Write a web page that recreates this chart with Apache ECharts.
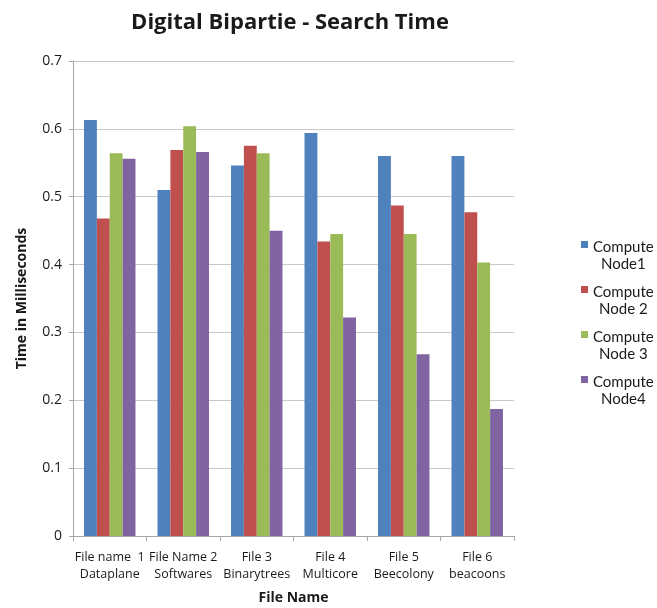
<!DOCTYPE html>
<html>
<head>
<meta charset="utf-8">
<script src="https://cdn.jsdelivr.net/npm/echarts@6/dist/echarts.min.js"></script>
<style>
  html, body { margin: 0; padding: 0; background: #fff; }
  #chart { width: 657px; height: 608px; }
</style>
</head>
<body>
<div id="chart"></div>
<script>
// File categories (two-line labels)
const categories = [
  'File name  1\nDataplane',
  'File Name 2\nSoftwares',
  'File 3\nBinarytrees',
  'File 4\nMulticore',
  'File 5\nBeecolony',
  'File 6\nbeacoons'
];

// Search time (ms) per compute node
const node1 = [0.613, 0.510, 0.546, 0.594, 0.560, 0.560];
const node2 = [0.468, 0.569, 0.575, 0.434, 0.487, 0.477];
const node3 = [0.564, 0.604, 0.564, 0.445, 0.445, 0.403];
const node4 = [0.556, 0.566, 0.450, 0.322, 0.268, 0.187];

const seriesNames = ['Compute Node1', 'Compute Node 2', 'Compute Node 3', 'Compute Node4'];
const seriesData = [node1, node2, node3, node4];
const colors = ['#4F81BD', '#C0504D', '#9BBB59', '#8064A2'];

const yTicks = { min: 0, max: 0.7, interval: 0.1 };

const font = '"Open Sans", "Noto Sans", sans-serif';
const legendFont = 'Lato, "Open Sans", sans-serif';

// Legend swatch: a square sitting at the top of a taller, empty box so it lines up with the first text line
const swatchIcon = 'path://M0,0L7,0L7,7L0,7Z M0,30L0.01,30L0.01,30.01Z';

const chart = echarts.init(document.getElementById('chart'), null, { renderer: 'canvas' });

chart.setOption({
  animation: false,
  backgroundColor: '#ffffff',
  color: colors,
  title: {
    text: 'Digital Bipartie - Search Time',
    left: 285,
    textAlign: 'center',
    top: 7,
    textStyle: { fontFamily: font, fontSize: 22, fontWeight: 'bold', color: '#1a1a1a' }
  },
  legend: {
    orient: 'vertical',
    left: 576,
    top: 235,
    padding: 5,
    itemWidth: 7,
    itemHeight: 30,
    itemGap: 13,
    icon: swatchIcon,
    data: seriesNames,
    formatter: function (name) {
      return '{a|' + name.replace('Compute ', 'Compute\n') + '}';
    },
    textStyle: {
      fontFamily: legendFont,
      fontSize: 15,
      color: '#1a1a1a',
      rich: { a: { fontFamily: legendFont, fontSize: 15, color: '#1a1a1a', lineHeight: 17, align: 'center' } }
    }
  },
  grid: { left: 73, right: 143, top: 61, bottom: 72, containLabel: false, outerBoundsMode: 'none' },
  xAxis: {
    type: 'category',
    data: categories,
    name: 'File Name',
    nameLocation: 'middle',
    nameGap: 55,
    nameTextStyle: { fontFamily: font, fontSize: 14, fontWeight: 'bold', color: '#1a1a1a' },
    axisLine: { lineStyle: { color: '#a6a6a6' } },
    axisTick: { show: true, alignWithLabel: false, length: 5, lineStyle: { color: '#a6a6a6' } },
    axisLabel: { fontFamily: font, fontSize: 12.5, color: '#1a1a1a', lineHeight: 17, margin: 13, interval: 0 }
  },
  yAxis: {
    type: 'value',
    min: yTicks.min,
    max: yTicks.max,
    interval: yTicks.interval,
    name: 'Time in Milliseconds',
    nameLocation: 'middle',
    nameGap: 44,
    nameTextStyle: { fontFamily: font, fontSize: 14, fontWeight: 'bold', color: '#1a1a1a' },
    axisLine: { show: true, lineStyle: { color: '#a6a6a6' } },
    axisTick: { show: true, length: 4, lineStyle: { color: '#a6a6a6' } },
    axisLabel: {
      fontFamily: font, fontSize: 14, color: '#1a1a1a', margin: 11,
      formatter: function (v) { return v === 0 ? '0' : v.toFixed(1); }
    },
    splitLine: { lineStyle: { color: '#c8c8c8' } }
  },
  series: seriesData.map(function (d, i) {
    return {
      name: seriesNames[i],
      type: 'bar',
      data: d,
      barGap: '0%',
      barCategoryGap: '30%',
      itemStyle: { color: colors[i] }
    };
  })
});
</script>
</body>
</html>
